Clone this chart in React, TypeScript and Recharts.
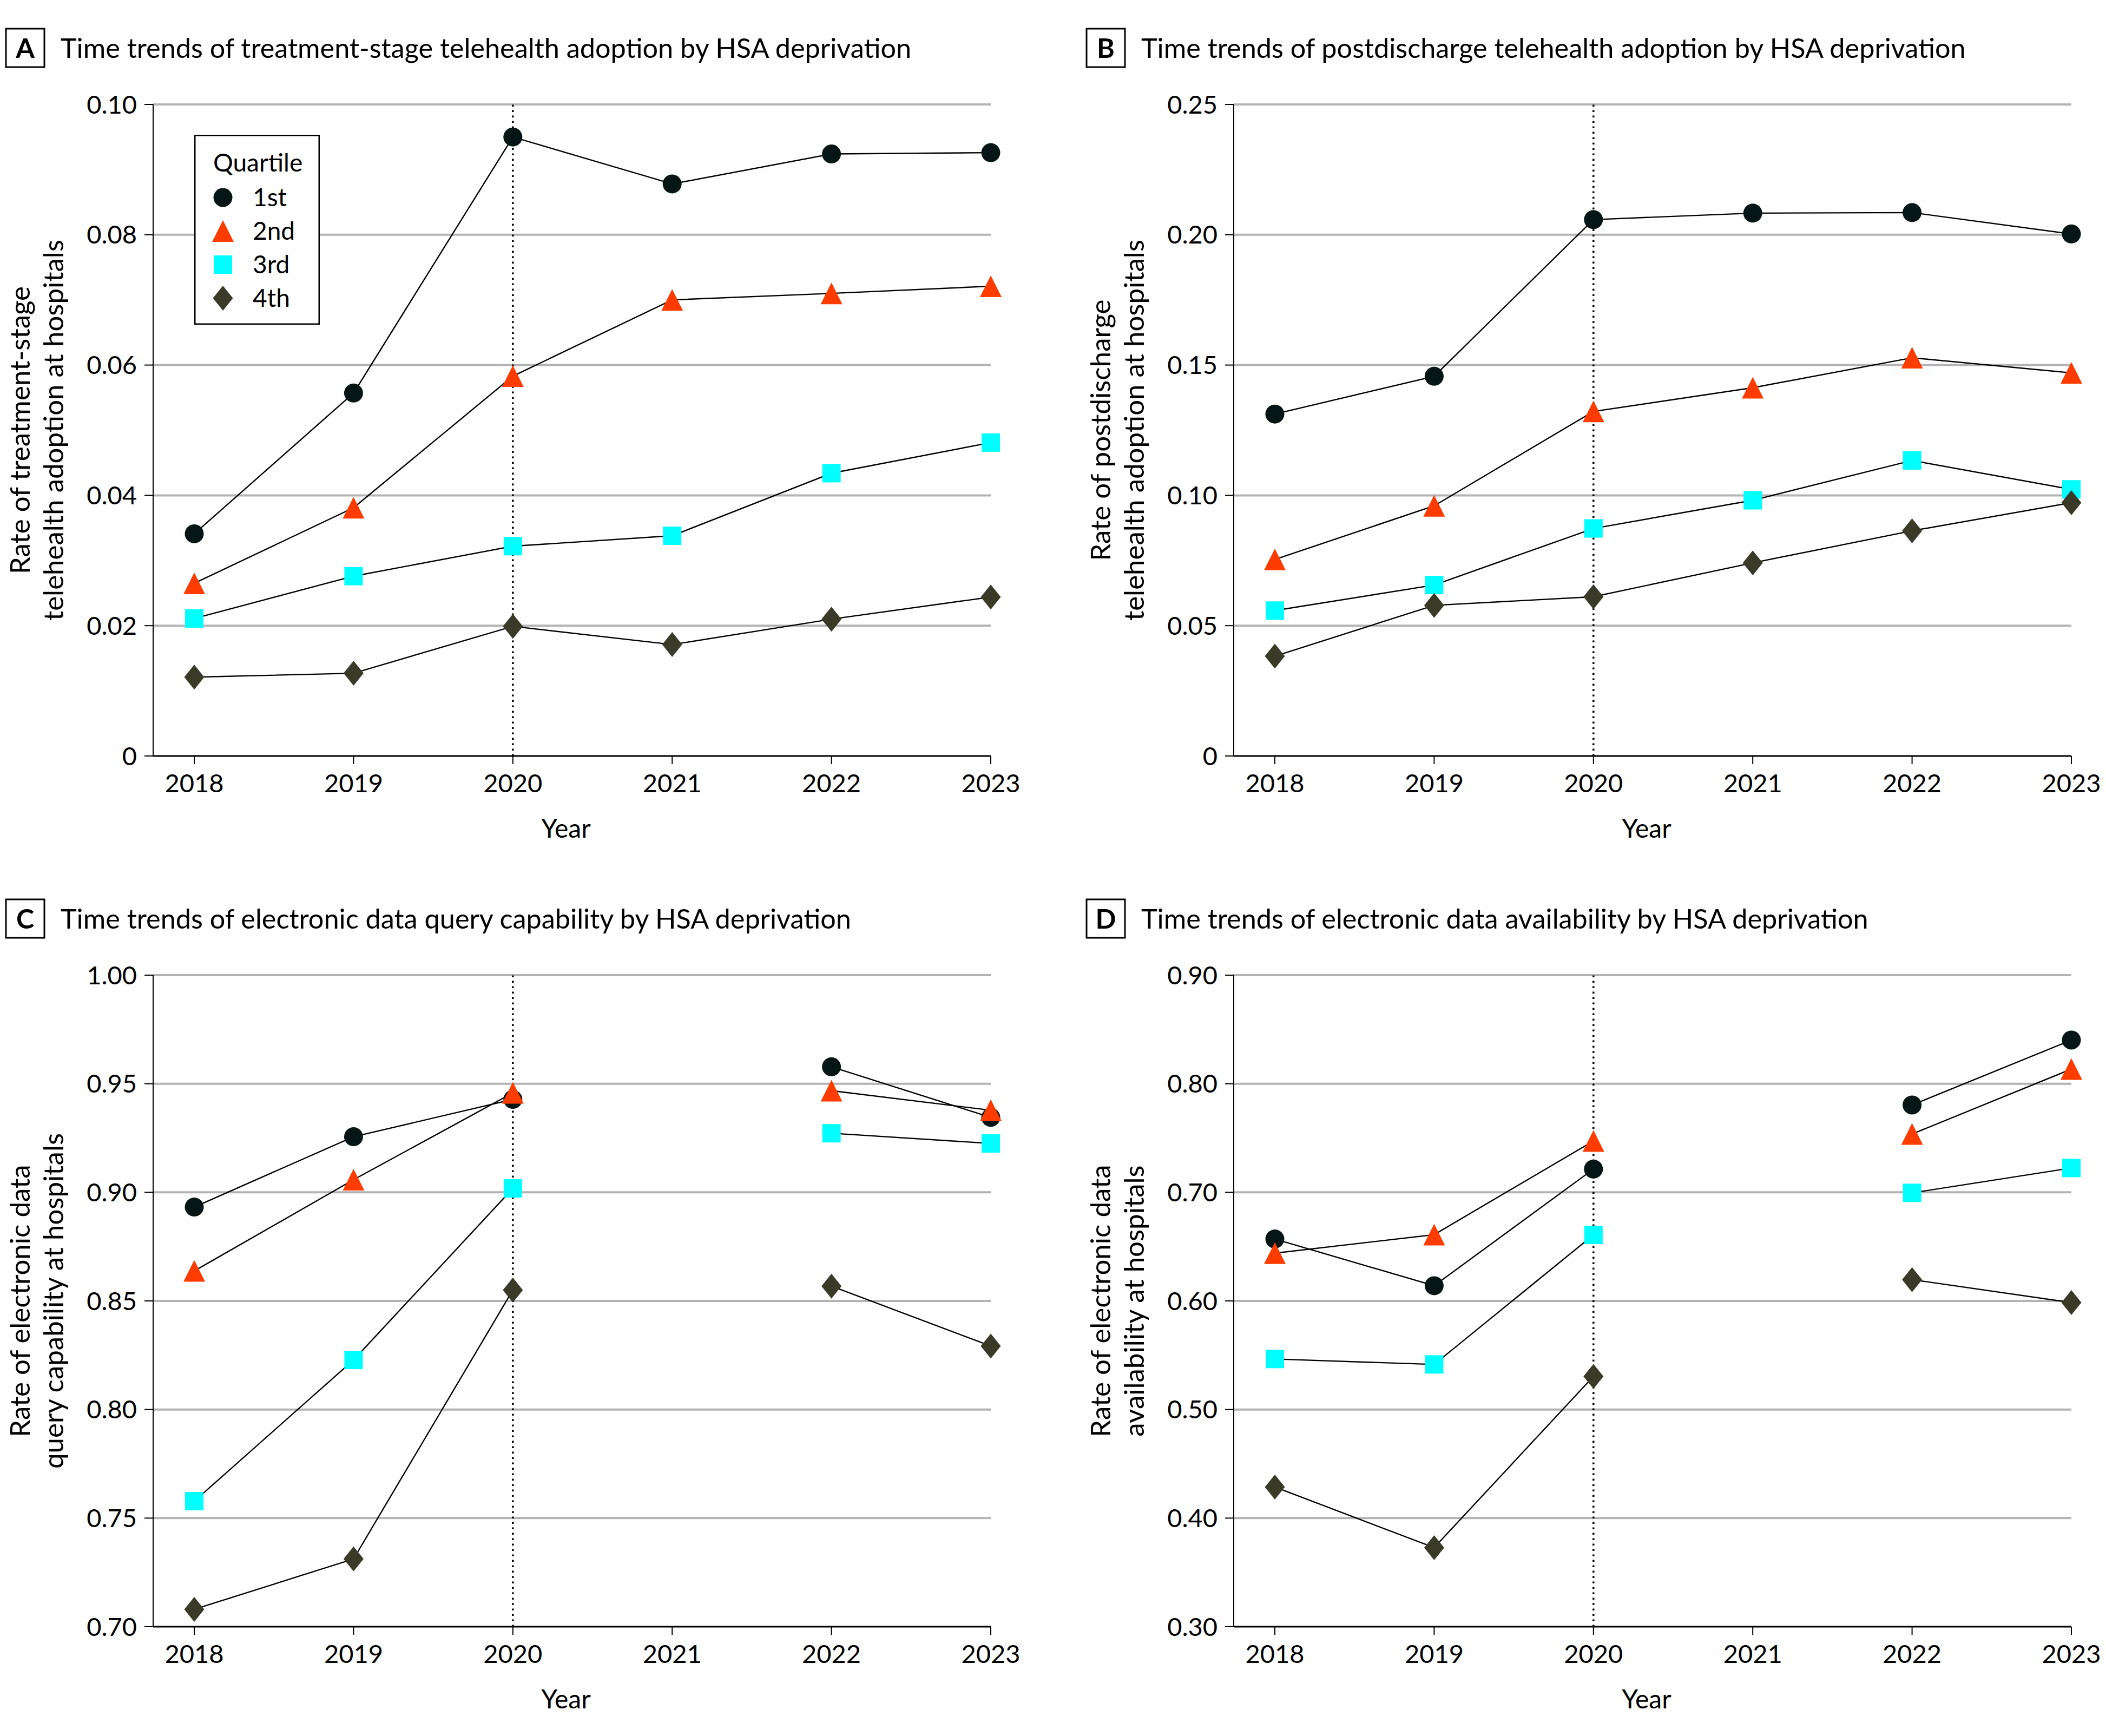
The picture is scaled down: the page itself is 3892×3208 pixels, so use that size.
import React from 'react';
import { LineChart, Line, XAxis, YAxis, CartesianGrid, ReferenceLine, Legend } from 'recharts';

// ---------- data ----------
const years = [2018, 2019, 2020, 2021, 2022, 2023];
const quartileNames = ['1st', '2nd', '3rd', '4th'];

// Panel A: treatment-stage telehealth adoption
const treatQ1 = [0.0341, 0.0557, 0.0950, 0.0878, 0.0924, 0.0926];
const treatQ2 = [0.0265, 0.0381, 0.0583, 0.0700, 0.0710, 0.0721];
const treatQ3 = [0.0211, 0.0276, 0.0322, 0.0338, 0.0434, 0.0481];
const treatQ4 = [0.0121, 0.0127, 0.0199, 0.0171, 0.0210, 0.0244];

// Panel B: postdischarge telehealth adoption
const postQ1 = [0.1312, 0.1457, 0.2058, 0.2083, 0.2085, 0.2003];
const postQ2 = [0.0754, 0.0960, 0.1322, 0.1413, 0.1528, 0.1470];
const postQ3 = [0.0558, 0.0656, 0.0873, 0.0981, 0.1134, 0.1023];
const postQ4 = [0.0383, 0.0578, 0.0611, 0.0741, 0.0864, 0.0972];

// Panel C: electronic data query capability (no 2021 data)
const queryQ1 = [0.8932, 0.9256, 0.9428, null, 0.9578, 0.9345];
const queryQ2 = [0.8638, 0.9058, 0.9458, null, 0.9468, 0.9378];
const queryQ3 = [0.7578, 0.8228, 0.9018, null, 0.9272, 0.9225];
const queryQ4 = [0.7080, 0.7312, 0.8550, null, 0.8568, 0.8292];

// Panel D: electronic data availability (no 2021 data)
const availQ1 = [0.6570, 0.6140, 0.7214, null, 0.7804, 0.8402];
const availQ2 = [0.6440, 0.6610, 0.7473, null, 0.7537, 0.8135];
const availQ3 = [0.5465, 0.5415, 0.6608, null, 0.6995, 0.7224];
const availQ4 = [0.4286, 0.3728, 0.5305, null, 0.6196, 0.5985];

const ticksA = [0, 0.02, 0.04, 0.06, 0.08, 0.1];
const ticksB = [0, 0.05, 0.1, 0.15, 0.2, 0.25];
const ticksC = [0.7, 0.75, 0.8, 0.85, 0.9, 0.95, 1.0];
const ticksD = [0.3, 0.4, 0.5, 0.6, 0.7, 0.8, 0.9];

// ---------- styling ----------
const FONT = 'Lato, "Open Sans", sans-serif';
const seriesStyle = [
  { key: 'q1', color: '#061616', shape: 'circle' },
  { key: 'q2', color: '#FF3C00', shape: 'triangle' },
  { key: 'q3', color: '#00FFFF', shape: 'square' },
  { key: 'q4', color: '#3A3A28', shape: 'diamond' },
];

const buildRows = (a: any[], b: any[], c: any[], d: any[]) =>
  years.map((y, i) => ({ year: y, q1: a[i], q2: b[i], q3: c[i], q4: d[i] }));

const panels = [
  {
    letter: 'A',
    title: 'Time trends of treatment-stage telehealth adoption by HSA deprivation',
    yLabel: ['Rate of treatment-stage', 'telehealth adoption at hospitals'],
    rows: buildRows(treatQ1, treatQ2, treatQ3, treatQ4),
    ticks: ticksA,
    zeroPlain: true,
    legend: true,
    left: 0,
    top: 0,
  },
  {
    letter: 'B',
    title: 'Time trends of postdischarge telehealth adoption by HSA deprivation',
    yLabel: ['Rate of postdischarge', 'telehealth adoption at hospitals'],
    rows: buildRows(postQ1, postQ2, postQ3, postQ4),
    ticks: ticksB,
    zeroPlain: true,
    legend: false,
    left: 1997,
    top: 0,
  },
  {
    letter: 'C',
    title: 'Time trends of electronic data query capability by HSA deprivation',
    yLabel: ['Rate of electronic data', 'query capability at hospitals'],
    rows: buildRows(queryQ1, queryQ2, queryQ3, queryQ4),
    ticks: ticksC,
    zeroPlain: false,
    legend: false,
    left: 0,
    top: 1609,
  },
  {
    letter: 'D',
    title: 'Time trends of electronic data availability by HSA deprivation',
    yLabel: ['Rate of electronic data', 'availability at hospitals'],
    rows: buildRows(availQ1, availQ2, availQ3, availQ4),
    ticks: ticksD,
    zeroPlain: false,
    legend: false,
    left: 1997,
    top: 1609,
  },
];

const CW = 1895;
const CH = 1599;

function MarkerShape({ shape, color, cx, cy }: any) {
  switch (shape) {
    case 'circle':
      return <circle cx={cx} cy={cy} r={17.5} fill={color} />;
    case 'triangle':
      return (
        <polygon
          points={`${cx},${cy - 20} ${cx + 20},${cy + 20} ${cx - 20},${cy + 20}`}
          fill={color}
        />
      );
    case 'square':
      return <rect x={cx - 17} y={cy - 17} width={34} height={34} fill={color} />;
    case 'diamond':
      return (
        <polygon
          points={`${cx},${cy - 23} ${cx + 18.5},${cy} ${cx},${cy + 23} ${cx - 18.5},${cy}`}
          fill={color}
        />
      );
    default:
      return null;
  }
}

const makeDot = (shape: string, color: string) => (props: any) => {
  const { cx, cy, index, value } = props;
  const k = `${shape}-${index}`;
  if (cx == null || cy == null || value == null || isNaN(cx) || isNaN(cy)) return <g key={k} />;
  return (
    <g key={k}>
      <MarkerShape shape={shape} color={color} cx={cx} cy={cy} />
    </g>
  );
};

const renderLegend = (props: any) => {
  const payload = (props && props.payload) || [];
  const items = payload.length
    ? payload.map((p: any) => {
        const st = seriesStyle.find((s) => s.key === p.dataKey) || seriesStyle[0];
        return { name: p.value, color: st.color, shape: st.shape };
      })
    : seriesStyle.map((s, i) => ({ name: quartileNames[i], color: s.color, shape: s.shape }));
  return (
    <svg width={232} height={351} style={{ display: 'block' }}>
      <rect x={1.25} y={1.25} width={229.5} height={348.5} fill="#fff" stroke="#000" strokeWidth={2.5} />
      <text x={35} y={68} fontSize={46} fontFamily={FONT} fill="#000">
        Quartile
      </text>
      {items.map((it: any, i: number) => (
        <g key={it.name}>
          <MarkerShape shape={it.shape} color={it.color} cx={53} cy={116 + 62 * i} />
          <text
            x={108}
            y={116 + 62 * i + 16}
            fontSize={46}
            fontFamily={FONT}
            fill="#000"
          >
            {it.name}
          </text>
        </g>
      ))}
    </svg>
  );
};

function Panel({ p }: any) {
  const fmt = (v: number) => (p.zeroPlain && v === 0 ? '0' : v.toFixed(2));
  const yMin = p.ticks[0];
  const yMax = p.ticks[p.ticks.length - 1];
  const yLabelContent = (props: any) => {
    const vb = (props && props.viewBox) || {};
    const cy = vb.y != null && vb.height != null ? vb.y + vb.height / 2 : 795;
    return (
      <g>
        <text
          transform={`translate(55, ${cy}) rotate(-90)`}
          textAnchor="middle"
          fontSize={51}
          fontFamily={FONT}
          fill="#000"
        >
          {p.yLabel[0]}
        </text>
        <text
          transform={`translate(117, ${cy}) rotate(-90)`}
          textAnchor="middle"
          fontSize={51}
          fontFamily={FONT}
          fill="#000"
        >
          {p.yLabel[1]}
        </text>
      </g>
    );
  };
  const xLabelContent = (props: any) => {
    const vb = (props && props.viewBox) || {};
    const cx = vb.x != null ? vb.x + vb.width / 2 - 11 : 1046;
    const y = vb.y != null ? vb.y + 151 : 1548;
    return (
      <text x={cx} y={y} textAnchor="middle" fontSize={48} fontFamily={FONT} fill="#000">
        Year
      </text>
    );
  };

  return (
    <div style={{ position: 'absolute', left: p.left, top: p.top, width: CW, height: CH }}>
      <svg
        width={CW}
        height={140}
        style={{ position: 'absolute', left: 0, top: 0, zIndex: 2, pointerEvents: 'none' }}
      >
        <rect x={11} y={53} width={71} height={71} fill="#fff" stroke="#000" strokeWidth={3} />
        <text
          x={46.5}
          y={107}
          textAnchor="middle"
          fontSize={50}
          fontWeight={700}
          fontFamily={FONT}
          fill="#000"
        >
          {p.letter}
        </text>
        <text x={112} y={107} fontSize={50.4} fontFamily={FONT} fill="#000">
          {p.title}
        </text>
      </svg>
      <LineChart
        width={CW}
        height={CH}
        data={p.rows}
        margin={{ top: 193, right: CW - 1831, bottom: CH - 1397 - 150, left: 150 }}
        style={{ fontFamily: FONT }}
      >
        <CartesianGrid
          vertical={false}
          horizontalValues={p.ticks.slice(1)}
          stroke="#b3b3b3"
          strokeWidth={4}
        />
        <XAxis
          dataKey="year"
          type="number"
          domain={[2018, 2023]}
          ticks={years}
          interval={0}
          padding={{ left: 76, right: 0 }}
          height={150}
          tickSize={15}
          tickMargin={19}
          axisLine={{ stroke: '#000', strokeWidth: 3 }}
          tickLine={{ stroke: '#000', strokeWidth: 2 }}
          tick={{ fill: '#000', fontSize: 47, fontFamily: FONT }}
          label={{ content: xLabelContent }}
        />
        <YAxis
          type="number"
          domain={[yMin, yMax]}
          ticks={p.ticks}
          interval={0}
          width={133}
          tickSize={16}
          tickMargin={14}
          tickFormatter={fmt}
          axisLine={{ stroke: '#000', strokeWidth: 2 }}
          tickLine={{ stroke: '#000', strokeWidth: 2 }}
          tick={{ fill: '#000', fontSize: 47, fontFamily: FONT }}
          label={{ content: yLabelContent }}
        />
        <ReferenceLine x={2020} stroke="#000" strokeWidth={3.5} strokeDasharray="3.5 6.5" />
        {seriesStyle.map((s, i) => (
          <Line
            key={s.key}
            dataKey={s.key}
            name={quartileNames[i]}
            stroke="#000"
            strokeWidth={2.4}
            dot={makeDot(s.shape, s.color)}
            activeDot={false}
            connectNulls={false}
            isAnimationActive={false}
            legendType="none"
          />
        ))}
        {p.legend && (
          <Legend
            layout="vertical"
            align="center"
            verticalAlign="middle"
            content={renderLegend}
            wrapperStyle={{ left: 359, top: 249, width: 232, height: 351, right: 'auto', bottom: 'auto' }}
          />
        )}
      </LineChart>
    </div>
  );
}

export default function App() {
  return (
    <div
      style={{
        position: 'absolute',
        left: 0,
        top: 0,
        width: 3892,
        height: 3208,
        background: '#fff',
        overflow: 'hidden',
        fontFamily: FONT,
      }}
    >
      {panels.map((p) => (
        <Panel key={p.letter} p={p} />
      ))}
    </div>
  );
}
